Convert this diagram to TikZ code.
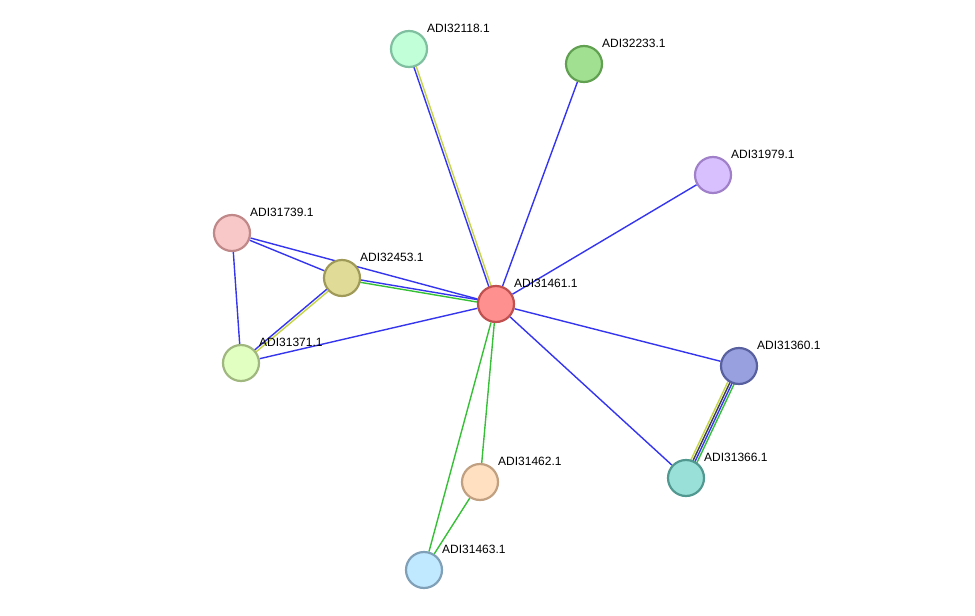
\documentclass[tikz,border=0pt]{standalone}
\usepackage{fontspec}
\setmainfont{Liberation Sans}
\usetikzlibrary{calc,backgrounds}
\definecolor{eblue}{HTML}{3535F0}
\definecolor{egreen}{HTML}{35C035}
\definecolor{eyellow}{HTML}{C5D545}
\definecolor{egray}{HTML}{404040}
\tikzset{
  prot/.style={circle, minimum size=36pt, inner sep=0pt, line width=2.2pt},
  lbl/.style={anchor=west, inner sep=0pt, font=\fontsize{12}{13}\selectfont},
  edge/.style={line width=1.4pt},
}
\newcommand{\pline}[4]{% from, to, offset, color
  \draw[edge,#4] ($(#1)!#3!90:(#2)$) -- ($(#2)!#3!-90:(#1)$);}
\begin{document}
\begin{tikzpicture}[x=1pt,y=-1pt]
\useasboundingbox (0,0) rectangle (975,616);
\node[prot, fill={rgb,255:red,255;green,144;blue,144}, draw={rgb,255:red,192;green,80;blue,80}] (c) at (496,304) {};
\node[prot, fill={rgb,255:red,192;green,255;blue,216}, draw={rgb,255:red,128;green,192;blue,160}] (n32118) at (409,49) {};
\node[prot, fill={rgb,255:red,160;green,224;blue,144}, draw={rgb,255:red,96;green,160;blue,80}] (n32233) at (584,64) {};
\node[prot, fill={rgb,255:red,216;green,192;blue,255}, draw={rgb,255:red,160;green,128;blue,200}] (n31979) at (713,175) {};
\node[prot, fill={rgb,255:red,248;green,200;blue,200}, draw={rgb,255:red,192;green,136;blue,136}] (n31739) at (232,233) {};
\node[prot, fill={rgb,255:red,224;green,220;blue,152}, draw={rgb,255:red,160;green,154;blue,88}] (n32453) at (342,278) {};
\node[prot, fill={rgb,255:red,224;green,255;blue,192}, draw={rgb,255:red,160;green,184;blue,128}] (n31371) at (241,363) {};
\node[prot, fill={rgb,255:red,152;green,160;blue,224}, draw={rgb,255:red,88;green,96;blue,160}] (n31360) at (739,366) {};
\node[prot, fill={rgb,255:red,152;green,224;blue,216}, draw={rgb,255:red,80;green,152;blue,144}] (n31366) at (686,478) {};
\node[prot, fill={rgb,255:red,255;green,224;blue,192}, draw={rgb,255:red,192;green,160;blue,128}] (n31462) at (480,482) {};
\node[prot, fill={rgb,255:red,192;green,232;blue,255}, draw={rgb,255:red,128;green,160;blue,184}] (n31463) at (424,570) {};
\foreach \n/\t in {c/ADI31461.1, n32118/ADI32118.1, n32233/ADI32233.1, n31979/ADI31979.1, n31739/ADI31739.1, n32453/ADI32453.1, n31371/ADI31371.1, n31360/ADI31360.1, n31366/ADI31366.1, n31462/ADI31462.1, n31463/ADI31463.1}
  \node[lbl] (l\n) at ($(\n)+(18,-21)$) {\t};
\begin{pgfonlayer}{background}
\pline{n32118}{c}{1.2pt}{eyellow}
\pline{n32118}{c}{-1.2pt}{eblue}
\draw[edge,eblue] (c) -- (n32233);
\draw[edge,eblue] (c) -- (n31979);
\draw[edge,eblue] (c) -- (n31739);
\pline{n32453}{c}{1.2pt}{eblue}
\pline{n32453}{c}{-1.2pt}{egreen}
\draw[edge,eblue] (c) -- (n31371);
\draw[edge,eblue] (c) -- (n31360);
\draw[edge,eblue] (c) -- (n31366);
\draw[edge,egreen] (c) -- (n31462);
\draw[edge,egreen] (c) -- (n31463);
\draw[edge,egreen] (n31462) -- (n31463);
\draw[edge,eblue] (n31739) -- (n32453);
\draw[edge,eblue] (n31739) -- (n31371);
\pline{n32453}{n31371}{1.2pt}{eyellow}
\pline{n32453}{n31371}{-1.2pt}{eblue}
\pline{n31360}{n31366}{-3.3pt}{eyellow}
\pline{n31360}{n31366}{-1.1pt}{egray}
\pline{n31360}{n31366}{1.1pt}{eblue}
\pline{n31360}{n31366}{3.3pt}{egreen}
\end{pgfonlayer}
\end{tikzpicture}
\end{document}
